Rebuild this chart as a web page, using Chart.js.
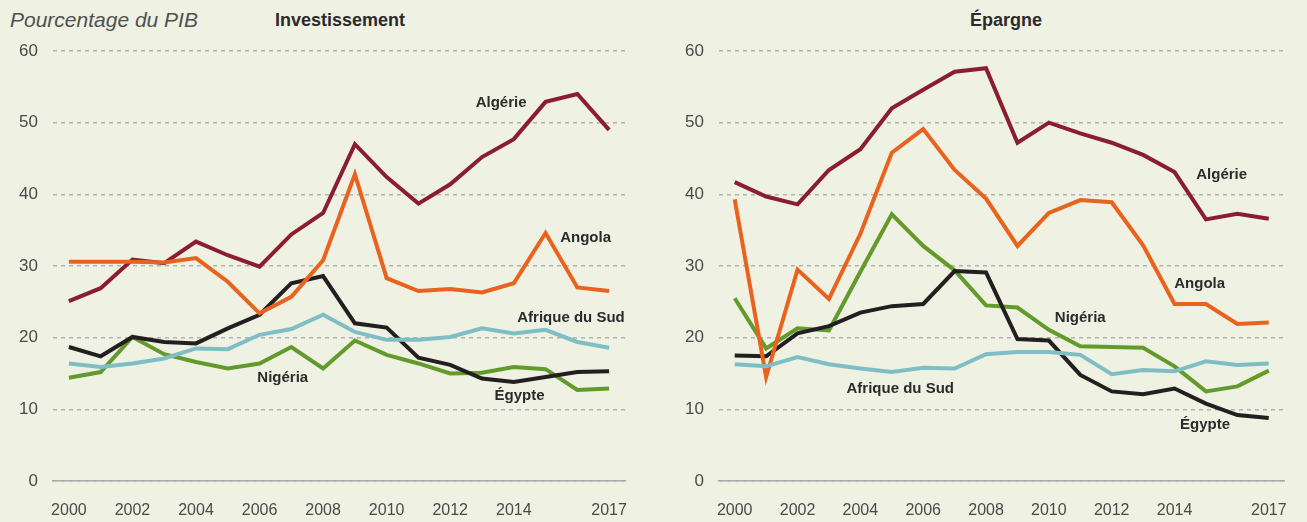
<!DOCTYPE html>
<html>
<head>
<meta charset="utf-8">
<script src="https://cdn.jsdelivr.net/npm/chart.js@4.4.1/dist/chart.umd.min.js"></script>
<style>
  html, body { margin:0; padding:0; background:#eff1e3; }
  body { width:1307px; height:522px; position:relative; overflow:hidden; font-family:"Liberation Sans", Arial, sans-serif; }
  .wrap { position:absolute; top:0; height:522px; }
  .t { position:absolute; color:#2b2b2b; white-space:nowrap; line-height:1; }
</style>
</head>
<body>
<div class="t" style="left:10px;top:9px;font-size:21px;font-style:italic;color:#505050;">Pourcentage du PIB</div>
<div class="t" style="left:275px;top:11px;font-size:18px;font-weight:bold;">Investissement</div>
<div class="t" style="left:970px;top:11px;font-size:18px;font-weight:bold;">Épargne</div>
<div class="wrap" style="left:0;width:650px;"><canvas id="c1" width="650" height="522"></canvas></div>
<div class="wrap" style="left:650px;width:657px;"><canvas id="c2" width="657" height="522"></canvas></div>
<script>
const years = [2000,2001,2002,2003,2004,2005,2006,2007,2008,2009,2010,2011,2012,2013,2014,2015,2016,2017];
const xTicks = [2000,2002,2004,2006,2008,2010,2012,2014,2017];
const yTicks = [0,10,20,30,40,50,60];

// Investissement (% du PIB)
const invAlgerie  = [25.1,26.9,30.9,30.4,33.4,31.5,29.9,34.4,37.4,47.0,42.4,38.7,41.4,45.2,47.7,52.9,54.0,49.0];
const invAngola   = [30.6,30.6,30.6,30.5,31.1,27.8,23.4,25.7,30.8,42.8,28.3,26.5,26.8,26.3,27.6,34.6,27.0,26.5];
const invAfSud    = [16.4,15.9,16.4,17.1,18.5,18.4,20.4,21.2,23.2,20.8,19.7,19.7,20.1,21.3,20.6,21.1,19.4,18.6];
const invEgypte   = [18.7,17.4,20.1,19.4,19.2,21.3,23.2,27.6,28.6,22.0,21.4,17.2,16.2,14.3,13.8,14.5,15.2,15.3];
const invNigeria  = [14.4,15.2,20.1,17.7,16.6,15.7,16.4,18.7,15.7,19.6,17.6,16.4,15.0,15.1,15.9,15.6,12.7,12.9];

// Épargne (% du PIB)
const epAlgerie   = [41.7,39.7,38.6,43.4,46.3,52.0,54.6,57.1,57.6,47.2,50.0,48.5,47.2,45.5,43.1,36.5,37.3,36.6];
const epAngola    = [39.3,14.5,29.5,25.4,34.5,45.8,49.1,43.4,39.4,32.8,37.4,39.2,38.9,32.9,24.7,24.7,21.9,22.1];
const epAfSud     = [16.3,16.0,17.3,16.3,15.7,15.2,15.8,15.7,17.7,18.0,18.0,17.6,14.9,15.5,15.3,16.7,16.2,16.4];
const epEgypte    = [17.5,17.4,20.6,21.6,23.5,24.4,24.7,29.3,29.1,19.8,19.6,14.8,12.5,12.1,12.9,10.8,9.2,8.8];
const epNigeria   = [25.5,18.5,21.3,21.0,29.2,37.2,32.8,29.4,24.5,24.2,21.1,18.8,18.7,18.6,16.0,12.5,13.2,15.4];

const COLORS = {
  'Algérie': '#8b1d31',
  'Angola': '#e9631e',
  'Afrique du Sud': '#7fbec4',
  'Égypte': '#231f20',
  'Nigéria': '#629b2b'
};

// label anchors (year, value) for in-chart series labels
const invLabels = [
  {text:'Algérie', x:2013.6, y:52.7},
  {text:'Angola', x:2016.26, y:33.9},
  {text:'Afrique du Sud', x:2015.8, y:22.7},
  {text:'Nigéria', x:2006.73, y:14.4},
  {text:'Égypte', x:2014.18, y:11.9}
];
const epLabels = [
  {text:'Algérie', x:2015.5, y:42.7},
  {text:'Angola', x:2014.8, y:27.5},
  {text:'Nigéria', x:2011.0, y:22.7},
  {text:'Afrique du Sud', x:2005.27, y:12.8},
  {text:'Égypte', x:2014.97, y:7.8}
];

function ds(name, vals) {
  return {
    label: name,
    data: years.map((y,i)=>({x:y, y:vals[i]})),
    borderColor: COLORS[name],
    backgroundColor: COLORS[name],
    borderWidth: 4,
    pointRadius: 0,
    tension: 0,
    borderJoinStyle: 'miter',
    borderCapStyle: 'butt'
  };
}

const labelPlugin = {
  id: 'seriesLabels',
  afterDatasetsDraw(chart, args, opts) {
    const ctx = chart.ctx;
    const xs = chart.scales.x, ys = chart.scales.y;
    ctx.save();
    ctx.font = 'bold 15px "Liberation Sans", Arial, sans-serif';
    ctx.fillStyle = '#2b2b2b';
    ctx.textAlign = 'center';
    ctx.textBaseline = 'middle';
    (opts.labels || []).forEach(l => {
      ctx.fillText(l.text, xs.getPixelForValue(l.x), ys.getPixelForValue(l.y));
    });
    ctx.restore();
  }
};

function makeChart(id, datasets, labels, yAxisWidth, padRight) {
  return new Chart(document.getElementById(id), {
    type: 'line',
    data: { datasets },
    plugins: [labelPlugin],
    options: {
      responsive: false,
      animation: false,
      layout: { padding: { top: 51, right: padRight, left: 0, bottom: 0 } },
      plugins: {
        legend: { display: false },
        tooltip: { enabled: false },
        seriesLabels: { labels }
      },
      scales: {
        x: {
          type: 'linear',
          min: 1999.5, max: 2017.5,
          afterBuildTicks: s => { s.ticks = xTicks.map(v => ({value: v})); },
          afterFit: s => { s.height = 41; },
          grid: { display: false, drawTicks: false },
          border: { display: true, color: '#a9a9a9', width: 1.5 },
          ticks: {
            callback: v => String(v),
            color: '#4a4a4a',
            font: { family: '"Liberation Sans", Arial, sans-serif', size: 16 },
            padding: 20,
            maxRotation: 0,
            autoSkip: false
          }
        },
        y: {
          min: 0, max: 60,
          afterBuildTicks: s => { s.ticks = yTicks.map(v => ({value: v})); },
          afterFit: s => { s.width = yAxisWidth; },
          grid: { color: '#b3b3b3', lineWidth: 1.5, drawTicks: false },
          border: { display: false, dash: [4,4] },
          ticks: {
            color: '#4a4a4a',
            font: { family: '"Liberation Sans", Arial, sans-serif', size: 17 },
            padding: 15
          }
        }
      }
    }
  });
}

makeChart('c1', [
  ds('Afrique du Sud', invAfSud),
  ds('Angola', invAngola),
  ds('Égypte', invEgypte),
  ds('Nigéria', invNigeria),
  ds('Algérie', invAlgerie)
], invLabels, 53, 25);

makeChart('c2', [
  ds('Afrique du Sud', epAfSud),
  ds('Angola', epAngola),
  ds('Égypte', epEgypte),
  ds('Nigéria', epNigeria),
  ds('Algérie', epAlgerie)
], epLabels, 69, 15);
</script>
</body>
</html>
